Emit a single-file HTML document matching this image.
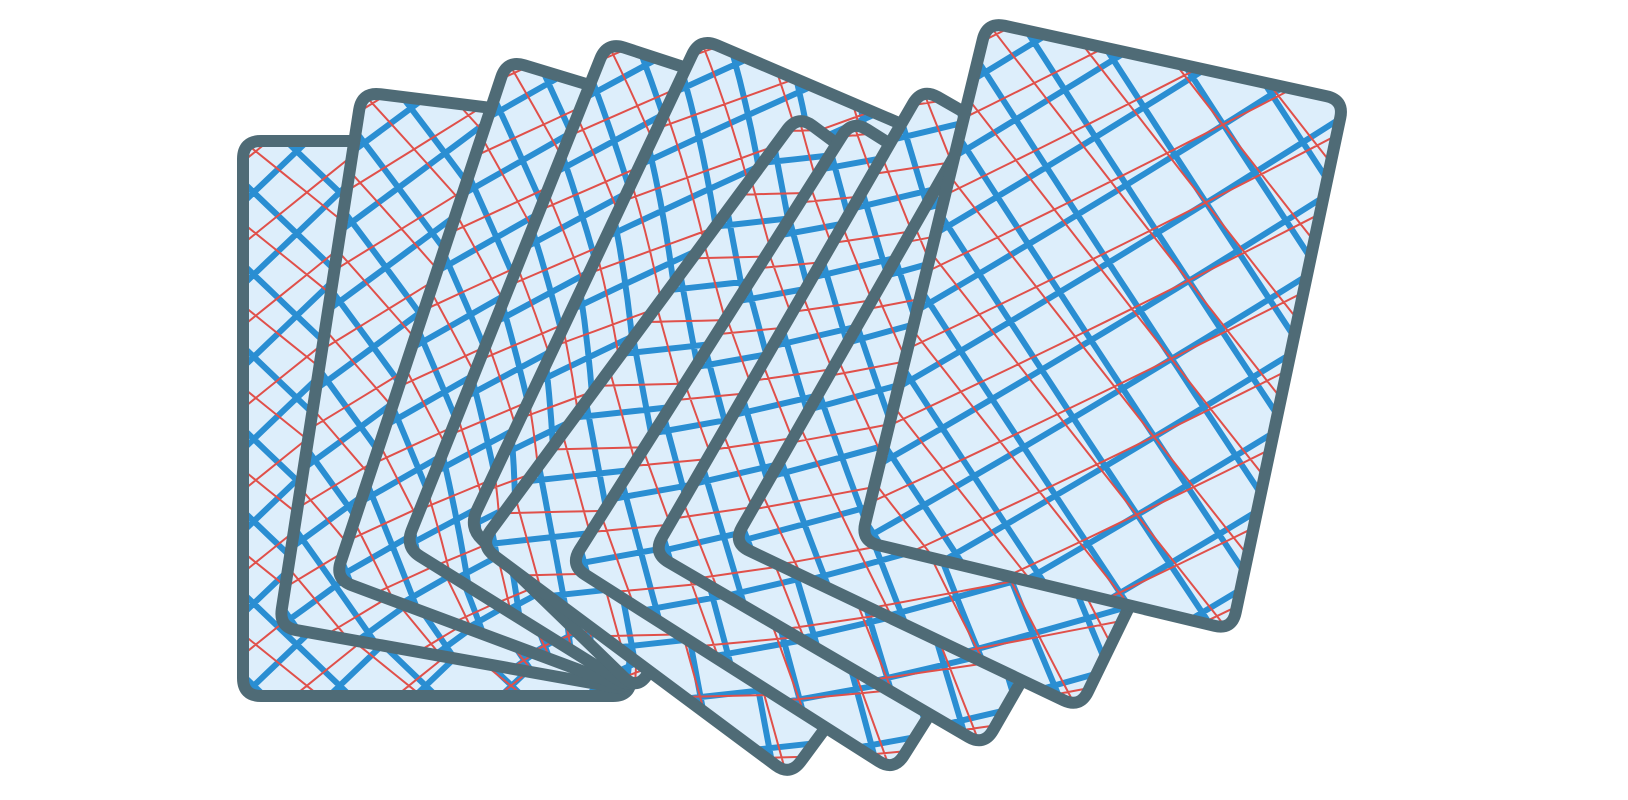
<!DOCTYPE html>
<html><head><meta charset="utf-8"><title>Fanned cards</title>
<style>html,body{margin:0;padding:0;background:#fff;width:1628px;height:800px;overflow:hidden;}svg{display:block;}</style></head>
<body>
<svg id="scene" width="1628" height="800" viewBox="0 0 1628 800" xmlns="http://www.w3.org/2000/svg" style="overflow:hidden">
<defs id="defs"></defs>
<g id="cards"></g>
</svg>
<script>
// corners per card (stroke centre): TL, TR, BR, BL
const cardTL = [[243,141],[362,92],[507,60],[607,42],[700,38],[798,115],[852,120],[922,88],[991,92],[987,22]];
const cardTR = [[631,141],[727,137],[830,158],[913,142],[990,162],[1108,345],[1176,324],[1253,278],[1300,255],[1344,100]];
const cardBR = [[631,696],[631,690],[633,690],[635,690],[637,690],[790,776],[894,771],[984,746],[1080,708],[1232,630]];
const cardBL = [[243,696],[279,627],[335,579],[405,547],[469,527],[480,545],[570,565],[653,553],[733,543],[861,541]];

const NS='http://www.w3.org/2000/svg';
const W=380,H=540;
function bil(c,u,v){
  const a=c[0],b=c[1],d=c[2],e=c[3];
  return [(1-u)*(1-v)*a[0]+u*(1-v)*b[0]+u*v*d[0]+(1-u)*v*e[0],
          (1-u)*(1-v)*a[1]+u*(1-v)*b[1]+u*v*d[1]+(1-u)*v*e[1]];
}
function roundedQuad(c,r){
  let d='';
  for(let i=0;i<4;i++){
    const p=c[i],prev=c[(i+3)%4],next=c[(i+1)%4];
    const l1=Math.hypot(prev[0]-p[0],prev[1]-p[1]),l2=Math.hypot(next[0]-p[0],next[1]-p[1]);
    const a=[p[0]+(prev[0]-p[0])*r/l1,p[1]+(prev[1]-p[1])*r/l1];
    const b=[p[0]+(next[0]-p[0])*r/l2,p[1]+(next[1]-p[1])*r/l2];
    d+=(i===0?'M':'L')+a[0].toFixed(1)+','+a[1].toFixed(1)+' Q'+p[0]+','+p[1]+' '+b[0].toFixed(1)+','+b[1].toFixed(1)+' ';
  }
  return d+'Z';
}
function linePath(c,slope,c0){
  let d='';
  for(let i=0;i<=24;i++){
    const x=-60+i*(500/24);
    const y=slope*x+c0;
    const p=bil(c,x/W,y/H);
    d+=(i===0?'M':'L')+p[0].toFixed(1)+','+p[1].toFixed(1)+' ';
  }
  return d;
}
const defs=document.getElementById('defs');
const g=document.getElementById('cards');
for(let k=0;k<cardTL.length;k++){
  const c=[cardTL[k],cardTR[k],cardBR[k],cardBL[k]];
  const shape=roundedQuad(c,18);
  const cp=document.createElementNS(NS,'clipPath');
  cp.setAttribute('id','clip'+k);
  const cpp=document.createElementNS(NS,'path');cpp.setAttribute('d',shape);cp.appendChild(cpp);defs.appendChild(cp);
  const card=document.createElementNS(NS,'g');
  
  
  const bg=document.createElementNS(NS,'path');
  bg.setAttribute('d',shape);bg.setAttribute('fill','#ddeefb');
  card.appendChild(bg);
  const pat=document.createElementNS(NS,'g');
  pat.setAttribute('clip-path','url(#clip'+k+')');
  pat.setAttribute('fill','none');
  let red='',blue='';
  for(let c0=-600;c0<=1100;c0+=80){
    blue+=linePath(c,0.95,c0);
    blue+=linePath(c,-0.95,c0+20);
    red+=linePath(c,0.8,c0+40);
    red+=linePath(c,-0.8,c0+60);
  }
  const rp=document.createElementNS(NS,'path');
  rp.setAttribute('d',red);rp.setAttribute('stroke','#e0504a');rp.setAttribute('stroke-width','2');
  const bp=document.createElementNS(NS,'path');
  bp.setAttribute('d',blue);bp.setAttribute('stroke','#2a8ed2');bp.setAttribute('stroke-width','6');
  pat.appendChild(bp);pat.appendChild(rp);
  card.appendChild(pat);
  const border=document.createElementNS(NS,'path');
  border.setAttribute('d',shape);border.setAttribute('fill','none');
  border.setAttribute('stroke','#4f6b76');border.setAttribute('stroke-width','12');border.setAttribute('stroke-linejoin','round');
  card.appendChild(border);
  g.appendChild(card);
}
</script>
</body></html>
